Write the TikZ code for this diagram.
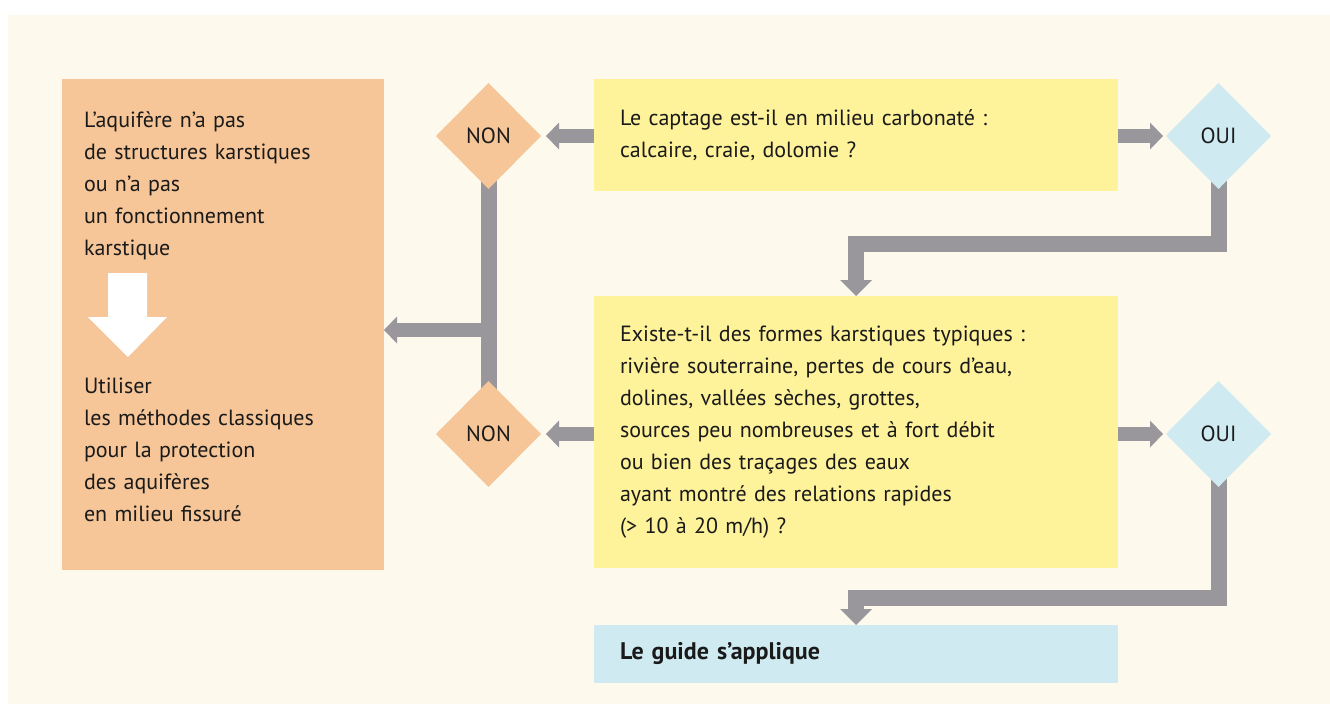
\documentclass[tikz,border=0pt]{standalone}
\usepackage{fontspec}
\setmainfont{PT Sans}
\usetikzlibrary{arrows.meta,shapes.geometric}
\definecolor{paper}{HTML}{FDF9ED}
\definecolor{peach}{HTML}{F6C698}
\definecolor{lemon}{HTML}{FEF29A}
\definecolor{ice}{HTML}{CFEBF1}
\definecolor{pipe}{HTML}{99979C}
\definecolor{ink}{HTML}{1A1A1A}
\pgfdeclarelayer{tint}
\pgfdeclarelayer{bg}
\pgfsetlayers{tint,bg,main}
\begin{document}
\begin{tikzpicture}[x=1pt,y=-1pt,
  every node/.style={inner sep=0pt, outer sep=0pt, text=ink},
  txt/.style={font=\fontsize{22}{32}\selectfont},
  qbox/.style={txt, fill=lemon, text width=472pt, inner xsep=26pt,
    minimum width=524pt, align=left},
  decision/.style={diamond, aspect=1, minimum width=105pt,
    minimum height=106pt, inner sep=0pt, txt},
  flow/.style={draw=pipe, line width=13.5pt,
    -{Triangle[width=27pt,length=13pt,line width=0pt]}},
  drop/.style={draw=pipe, line width=16pt, line join=miter,
    -{Triangle[width=32pt,length=16pt,line width=0pt]}},
  link/.style={draw=pipe, line width=16pt},
]
\useasboundingbox (0,0) rectangle (1330,704);
% page tint
\begin{pgfonlayer}{tint}
  \fill[paper] (8,15) rectangle (1330,704);
\end{pgfonlayer}

% left panel
\node[fill=peach, minimum width=322pt, minimum height=491pt] (left) at (223,324.5) {};
\node[txt, text width=290pt, align=left, anchor=base west] (lefttop) at (84,127)
  {L’aquifère n’a pas\\de structures karstiques\\ou n’a pas\\un fonctionnement\\karstique};
\node[txt, text width=290pt, align=left, anchor=base west] (leftbottom) at (84,393)
  {Utiliser\\les méthodes classiques\\pour la protection\\des aquifères\\en milieu fissuré};
\fill[white] (108,273) -- (147,273) -- (147,317) -- (167,317) -- (128,357)
  -- (88,317) -- (108,317) -- cycle;

% questions
\node[qbox, minimum height=112pt] (q1) at (856,135)
  {Le captage est-il en milieu carbonaté :\\calcaire, craie, dolomie ?};
\node[qbox, minimum height=272pt] (q2) at (856,432)
  {Existe-t-il des formes karstiques typiques :\\rivière souterraine, pertes de cours d’eau,\\dolines, vallées sèches, grottes,\\sources peu nombreuses et à fort débit\\ou bien des traçages des eaux\\ayant montré des relations rapides\\(> 10 à 20 m/h) ?};
\node[qbox, fill=ice, minimum height=58pt, font=\fontsize{24}{32}\selectfont\bfseries] (guide) at (856,654)
  {Le guide s’applique};

% decisions
\node[decision, fill=peach] (no1) at (488.5,136) {NON};
\node[decision, fill=peach] (no2) at (488.5,434) {NON};
\node[decision, fill=ice] (yes1) at (1218.5,136) {OUI};
\node[decision, fill=ice] (yes2) at (1218.5,434) {OUI};

% connectors
\coordinate (fork) at (488.5,330);
\begin{pgfonlayer}{bg}
  \draw[link] (no1.center) -- (no2.center);
  \draw[flow] (fork) -- (left.east |- fork);
  \draw[drop] (yes1.center) |- ([yshift=52pt]q2.north) -- (q2.north);
  \draw[drop] (yes2.center) |- ([yshift=27pt]guide.north) -- (guide.north);
\end{pgfonlayer}
\draw[flow] (q1.west |- no1.east) -- ([xshift=5pt]no1.east);
\draw[flow] (q1.east |- yes1.west) -- ([xshift=-3pt]yes1.west);
\draw[flow] (q2.west |- no2.east) -- ([xshift=5pt]no2.east);
\draw[flow] (q2.east |- yes2.west) -- ([xshift=-3pt]yes2.west);
\end{tikzpicture}
\end{document}
